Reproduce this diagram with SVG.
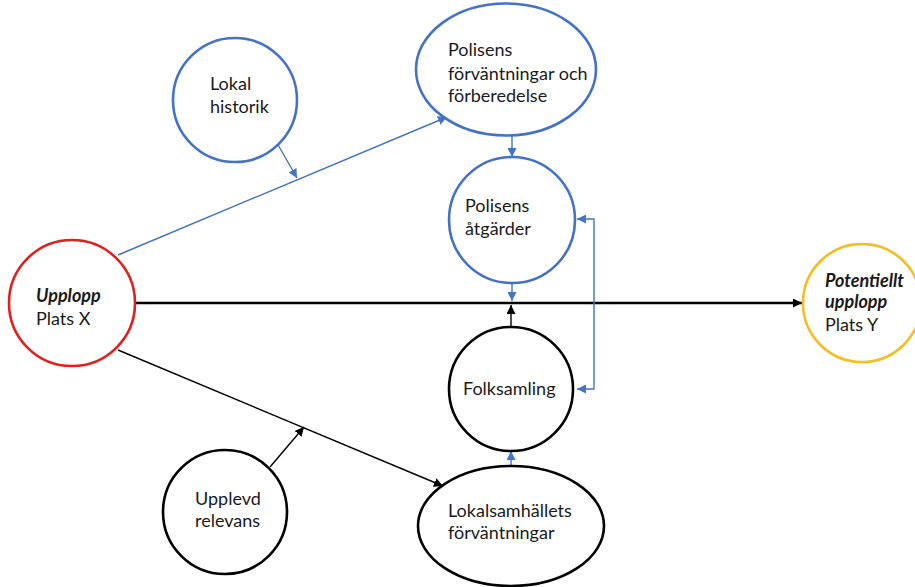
<svg xmlns="http://www.w3.org/2000/svg" width="915" height="587" viewBox="0 0 915 587">
<defs>
<marker id="ab" viewBox="0 0 10 10" refX="10" refY="5" markerWidth="9" markerHeight="9" markerUnits="userSpaceOnUse" orient="auto-start-reverse"><path d="M0,0 L10,5 L0,10 z" fill="#4472C4"/></marker>
<marker id="ak" viewBox="0 0 10 10" refX="10" refY="5" markerWidth="9" markerHeight="9" markerUnits="userSpaceOnUse" orient="auto-start-reverse"><path d="M0,0 L10,5 L0,10 z" fill="#000"/></marker>
</defs>
<style>
.n{fill:#fff;stroke-width:2.6}
.b{stroke:#4472C4}
.k{stroke:#000}
.t{font-family:Lato,"Open Sans",sans-serif;font-size:18px;fill:#1a1a1a}
.bi{font-weight:bold;font-style:italic}
.cb{stroke:#4472C4;stroke-width:1.4;fill:none}
.ck{stroke:#000;stroke-width:1.4;fill:none}
</style>
<rect width="915" height="587" fill="#fff"/>
<g id="connectors">
<line class="ck" x1="135" y1="303" x2="802" y2="303" style="stroke-width:2.6" marker-end="url(#ak)"/>
<line class="cb" x1="118" y1="255" x2="447" y2="117" marker-end="url(#ab)"/>
<line class="cb" x1="277" y1="143" x2="297" y2="178" marker-end="url(#ab)"/>
<line class="cb" x1="512" y1="136" x2="512" y2="157" marker-end="url(#ab)"/>
<line class="cb" x1="512" y1="284" x2="512" y2="301" marker-end="url(#ab)"/>
<line class="ck" x1="511" y1="326" x2="511" y2="305" marker-end="url(#ak)"/>
<polyline class="cb" points="577,219 594,219 594,389 577,389" marker-start="url(#ab)" marker-end="url(#ab)"/>
<line class="ck" x1="118" y1="350" x2="443" y2="486" marker-end="url(#ak)"/>
<line class="ck" x1="270" y1="467" x2="304" y2="427" marker-end="url(#ak)"/>
<line class="cb" x1="511" y1="465" x2="511" y2="451" marker-end="url(#ab)"/>
</g>
<g id="upplopp"><circle class="n" cx="72" cy="303" r="63" style="stroke:#E0201E"/>
<text class="t"><tspan class="bi" x="36" y="302">Upplopp</tspan><tspan x="36" y="325">Plats X</tspan></text></g>
<g id="potentiellt"><circle class="n" cx="862" cy="303" r="59" style="stroke:#F2BE22"/>
<text class="t"><tspan class="bi" x="825" y="287">Potentiellt</tspan><tspan class="bi" x="825" y="308">upplopp</tspan><tspan x="825" y="331">Plats Y</tspan></text></g>
<g id="lokal-historik"><circle class="n b" cx="235" cy="100" r="62"/>
<text class="t"><tspan x="210" y="90">Lokal</tspan><tspan x="210" y="113">historik</tspan></text></g>
<g id="polisens-forvantningar"><ellipse class="n b" cx="506" cy="69.5" rx="90" ry="66"/>
<text class="t"><tspan x="448" y="56">Polisens</tspan><tspan x="448" y="80">förväntningar och</tspan><tspan x="448" y="102">förberedelse</tspan></text></g>
<g id="polisens-atgarder"><circle class="n b" cx="512" cy="220" r="63"/>
<text class="t"><tspan x="465" y="212">Polisens</tspan><tspan x="465" y="235">åtgärder</tspan></text></g>
<g id="folksamling"><circle class="n k" cx="511" cy="389" r="62"/>
<text class="t" x="463" y="395">Folksamling</text></g>
<g id="lokalsamhallets"><ellipse class="n k" cx="511" cy="526" rx="93" ry="60"/>
<text class="t"><tspan x="448" y="517">Lokalsamhällets</tspan><tspan x="448" y="539">förväntningar</tspan></text></g>
<g id="upplevd-relevans"><circle class="n k" cx="225" cy="512" r="62"/>
<text class="t"><tspan x="195" y="505">Upplevd</tspan><tspan x="195" y="527">relevans</tspan></text></g>
</svg>
